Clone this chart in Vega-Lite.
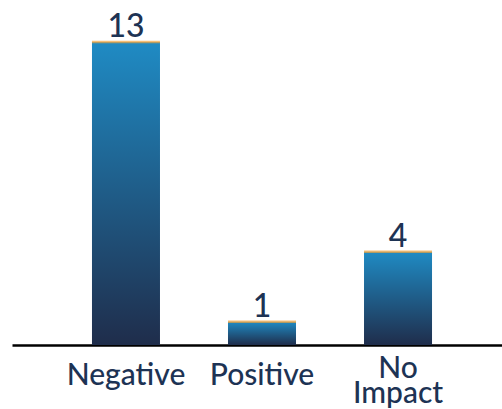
{
  "$schema": "https://vega.github.io/schema/vega-lite/v6.json",
  "width": 500,
  "height": 303,
  "autosize": {"type": "none"},
  "padding": {"left": 12, "top": 42, "right": 0, "bottom": 64},
  "data": {
    "values": [
      {"impact": "Negative", "count": 13},
      {"impact": "Positive", "count": 1},
      {"impact": "No Impact", "count": 4}
    ]
  },
  "encoding": {
    "x": {
      "field": "impact",
      "type": "nominal",
      "sort": null,
      "scale": {"paddingInner": 0.5, "paddingOuter": 0.588},
      "axis": {
        "title": null,
        "ticks": false,
        "domainColor": "#000000",
        "domainWidth": 2.5,
        "labelAngle": 0,
        "labelFont": "Lato",
        "labelFontSize": 30,
        "labelFontWeight": 500,
        "labelColor": "#1d3354",
        "labelBaseline": "top",
        "labelLineHeight": 25,
        "labelPadding": {"condition": {"test": "datum.value == 'No Impact'", "value": 8}, "value": 15},
        "labelExpr": "datum.value == 'No Impact' ? ['No', 'Impact'] : datum.label"
      }
    },
    "y": {
      "field": "count",
      "type": "quantitative",
      "scale": {"domain": [0, 13], "nice": false},
      "axis": null
    }
  },
  "layer": [
    {
      "mark": {
        "type": "bar",
        "color": {
          "gradient": "linear",
          "x1": 0, "y1": 0, "x2": 0, "y2": 1,
          "stops": [
            {"offset": 0, "color": "#1f8bc4"},
            {"offset": 1, "color": "#1f2d4b"}
          ]
        }
      }
    },
    {
      "mark": {"type": "tick", "color": "#f3a43a", "thickness": 2.5, "size": 68}
    },
    {
      "mark": {
        "type": "text",
        "baseline": "alphabetic",
        "dy": -5,
        "font": "Lato",
        "fontSize": 32,
        "fontWeight": 500,
        "color": "#1d3354"
      },
      "encoding": {"text": {"field": "count", "type": "quantitative"}}
    }
  ],
  "config": {"view": {"stroke": null}}
}
